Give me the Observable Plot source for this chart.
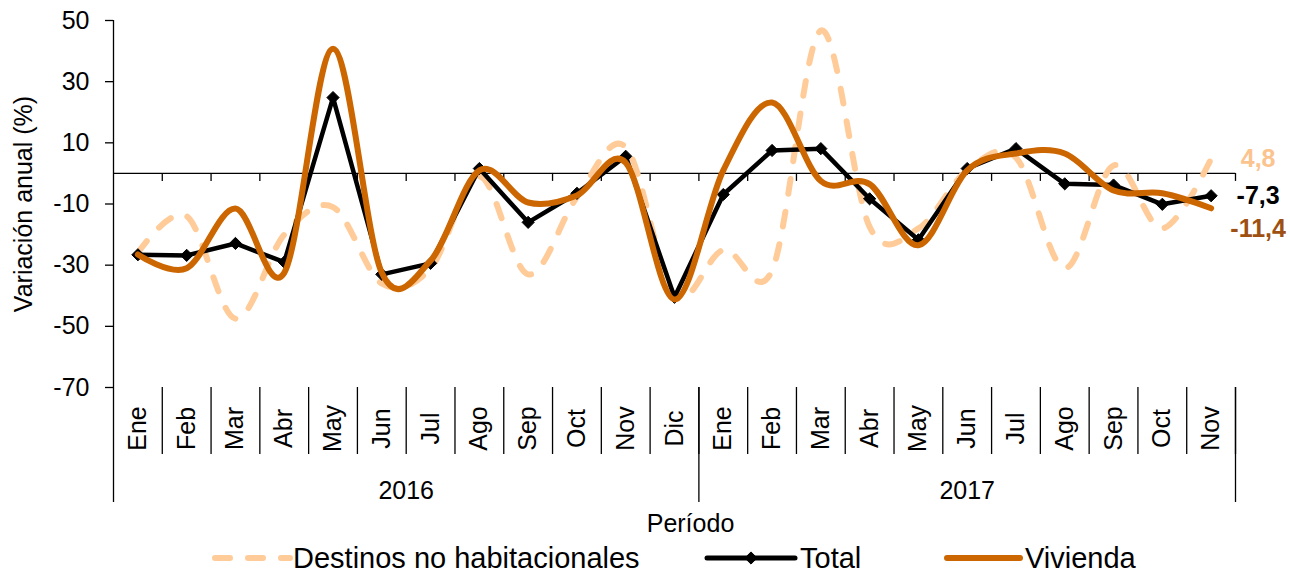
<!DOCTYPE html>
<html>
<head>
<meta charset="utf-8">
<script src="https://cdn.jsdelivr.net/npm/d3@7"></script>
<script src="https://cdn.jsdelivr.net/npm/@observablehq/plot@0.6"></script>
<style>
  html, body { margin: 0; padding: 0; background: #fff; }
  #chart { width: 1290px; height: 574px; }
</style>
</head>
<body>
<div id="chart"></div>
<script>
// ---- Data ----
const months = ["Ene","Feb","Mar","Abr","May","Jun","Jul","Ago","Sep","Oct","Nov","Dic",
                "Ene","Feb","Mar","Abr","May","Jun","Jul","Ago","Sep","Oct","Nov"];
const years = ["2016", "2017"];
const destinos = [-26, -14, -47.5, -20, -11, -36, -31, -1, -33, -7.8, 8.6, -40,
                  -25, -31.7, 46.7, -17.5, -18, 1, 5.2, -31, 2.6, -18, 4.8];
const total = [-26.6, -26.8, -22.9, -29.0, 24.8, -33.0, -29.4, 1.6, -16.0, -6.5, 5.6, -40.5,
               -6.9, 7.5, 8.1, -8.3, -21.7, 1.6, 8.1, -3.4, -3.8, -10.1, -7.3];
const vivienda = [-26.5, -31.0, -11.5, -32.5, 40.8, -32.5, -28.5, 1.0, -9.5, -7.2, 3.5, -41.2,
                  1.0, 23.2, -2.5, -3.5, -23.5, 1.0, 6.5, 6.5, -5.6, -6.5, -11.4];
const yTicks = [-70, -50, -30, -10, 10, 30, 50];
const seriesNames = ["Destinos no habitacionales", "Total", "Vivienda"];
const endLabels = ["4,8", "-7,3", "-11,4"];
const yTitle = "Variación anual (%)";
const xTitle = "Período";

// ---- Styles ----
const FONT = "'Liberation Sans', Arial, Helvetica, sans-serif";
const cDest = "#FFCC99", cTot = "#000000", cViv = "#CC6600", cVivLbl = "#9E5012", cDestLbl = "#FBC48F";
const dash = "15,18";

// ---- Derived tables ----
const rows = months.map((m, i) => ({ i, m, destinos: destinos[i], total: total[i], vivienda: vivienda[i] }));
const n = months.length;
const groups = [];
months.forEach((m, i) => {
  if (i === 0 || m === "Ene") groups.push({ start: i, end: i });
  else groups[groups.length - 1].end = i;
});
groups.forEach((g, k) => { g.year = years[k]; g.center = (g.start + g.end) / 2; });
const innerBounds = d3.range(0, n).map(i => i + 0.5);
const longBounds = [-0.5, ...groups.map(g => g.end + 0.5)];
const last = rows[n - 1];

const plot = Plot.plot({
  width: 1290,
  height: 574,
  marginLeft: 113,
  marginRight: 55,
  marginTop: 20,
  marginBottom: 187,
  style: { fontFamily: FONT, fontSize: "25px", color: "#000", background: "#fff", overflow: "visible" },
  x: { type: "linear", domain: [-0.5, n - 0.5], axis: null },
  y: { domain: [-70, 50], axis: null },
  marks: [
    Plot.axisY({ ticks: yTicks, tickSize: 8, tickPadding: 16, tickFormat: d => String(d), label: null, strokeWidth: 1.3 }),
    Plot.ruleX([-0.5], { y1: 50, y2: -70, stroke: "#000", strokeWidth: 1.3 }),
    Plot.ruleY([0], { x1: -0.5, x2: n - 0.5, stroke: "#000", strokeWidth: 1.3 }),
    Plot.ruleX(innerBounds, { x: d => d, y1: 0, y2: 0, insetBottom: -8, stroke: "#000", strokeWidth: 1.3 }),
    Plot.ruleX(innerBounds, { x: d => d, y1: -70, y2: -70, insetBottom: -67, stroke: "#000", strokeWidth: 1.3 }),
    Plot.ruleX(longBounds, { x: d => d, y1: -70, y2: -70, insetBottom: -115, stroke: "#000", strokeWidth: 1.3 }),
    Plot.text(rows, { x: "i", text: "m", frameAnchor: "bottom", dy: 41, rotate: -90, textAnchor: "middle", lineAnchor: "middle", fill: "#000" }),
    Plot.text(groups, { x: "center", text: "year", frameAnchor: "bottom", dy: 103, lineAnchor: "middle", fill: "#000" }),
    Plot.text([xTitle], { frameAnchor: "bottom", dx: 16, dy: 136, lineAnchor: "middle", fill: "#000" }),
    Plot.text([yTitle], { frameAnchor: "left", dx: -90, rotate: -90, textAnchor: "middle", lineAnchor: "middle", fill: "#000" }),
    Plot.line(rows, { x: "i", y: "destinos", curve: "cardinal", stroke: cDest, strokeWidth: 6, strokeDasharray: dash, strokeLinecap: "round" }),
    Plot.line(rows, { x: "i", y: "total", stroke: cTot, strokeWidth: 4.5, strokeLinejoin: "round" }),
    Plot.dot(rows, { x: "i", y: "total", symbol: "diamond2", r: 5.5, fill: cTot, stroke: cTot, strokeWidth: 1 }),
    Plot.line(rows, { x: "i", y: "vivienda", curve: "cardinal", stroke: cViv, strokeWidth: 6, strokeLinecap: "round" }),
    Plot.text([last], { x: "i", y: "destinos", text: () => endLabels[0], dx: 47, fill: cDestLbl, fontWeight: "bold", lineAnchor: "middle" }),
    Plot.text([last], { x: "i", y: "total", text: () => endLabels[1], dx: 47, fill: "#000", fontWeight: "bold", lineAnchor: "middle" }),
    Plot.text([last], { x: "i", y: "vivienda", text: () => endLabels[2], dx: 47, dy: 21, fill: cVivLbl, fontWeight: "bold", lineAnchor: "middle" })
  ]
});

// ---- Legend (inside the SVG, below the axis title) ----
const svg = d3.select(plot);
const legendY = 558;
const lg = svg.append("g").attr("font-family", FONT).attr("font-size", 29).attr("fill", "#000").attr("text-anchor", "start");
const items = [
  { name: seriesNames[0], x0: 215, x1: 290, tx: 293, stroke: cDest, w: 6, dash: dash },
  { name: seriesNames[1], x0: 707, x1: 795, tx: 800, stroke: cTot, w: 5, marker: true },
  { name: seriesNames[2], x0: 947, x1: 1020, tx: 1025, stroke: cViv, w: 6 }
];
items.forEach(it => {
  lg.append("line").attr("x1", it.x0).attr("x2", it.x1).attr("y1", legendY).attr("y2", legendY)
    .attr("stroke", it.stroke).attr("stroke-width", it.w).attr("stroke-linecap", "round")
    .attr("stroke-dasharray", it.dash || null);
  if (it.marker) {
    lg.append("path").attr("d", d3.symbol(d3.symbolDiamond2, Math.PI * 5.5 * 5.5)())
      .attr("transform", `translate(${(it.x0 + it.x1) / 2},${legendY})`)
      .attr("fill", it.stroke).attr("stroke", it.stroke).attr("stroke-width", 1);
  }
  lg.append("text").attr("x", it.tx).attr("y", legendY).attr("dy", "0.35em").attr("text-anchor", "start").text(it.name);
});

document.getElementById("chart").appendChild(plot);
</script>
</body>
</html>
